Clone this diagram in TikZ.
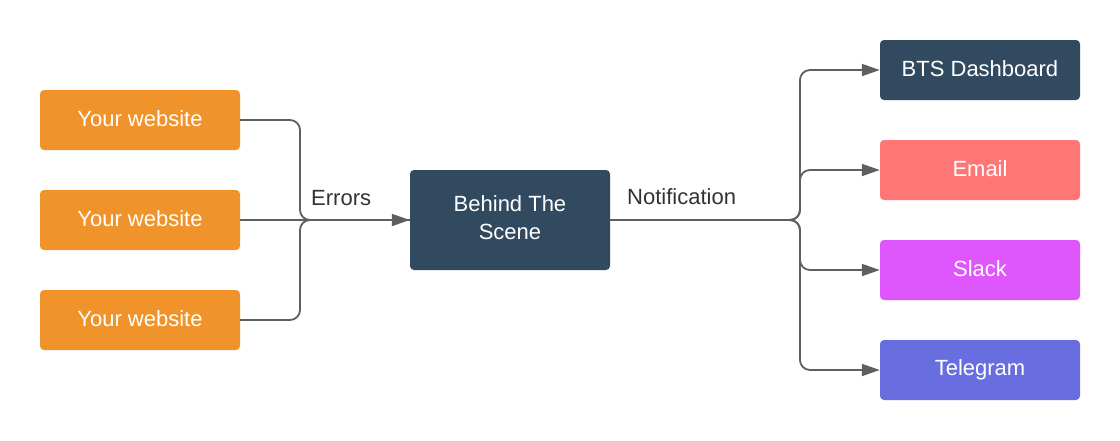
\documentclass[tikz,border=0pt]{standalone}
\usepackage{fontspec}
\setmainfont{Liberation Sans}
\usetikzlibrary{arrows.meta}
\definecolor{orangebox}{HTML}{F0932B}
\definecolor{darkbox}{HTML}{324A5F}
\definecolor{emailbox}{HTML}{FF7675}
\definecolor{slackbox}{HTML}{E056FD}
\definecolor{telebox}{HTML}{686DE0}
\definecolor{linegray}{HTML}{5F5F5F}
\definecolor{labelgray}{HTML}{333333}
\newcommand{\lift}[1]{\raisebox{2.5pt}{#1}}
\tikzset{
  box/.style={rectangle, rounded corners=4pt, minimum width=200pt, minimum height=60pt, inner sep=0pt, text=white, font=\fontsize{22}{27}\selectfont, align=center},
  conn/.style={draw=linegray, line width=1.8pt, rounded corners=10pt},
  arr/.style={-{Triangle[length=18pt,width=12pt]}},
  lbl/.style={text=labelgray, font=\fontsize{22}{26}\selectfont, inner sep=0pt}
}
\begin{document}
\begin{tikzpicture}[x=1pt,y=-1pt]
\useasboundingbox[fill=white] (0,0) rectangle (1120,440);
\node[box, fill=orangebox] (w1) at (140,120) {\lift{Your website}};
\node[box, fill=orangebox] (w2) at (140,220) {\lift{Your website}};
\node[box, fill=orangebox] (w3) at (140,320) {\lift{Your website}};
\node[box, fill=darkbox, minimum height=100pt] (bts) at (510,220) {\lift{\begin{tabular}{@{}c@{}}Behind The\\[0.5pt]Scene\end{tabular}}};
\node[box, fill=darkbox] (dash) at (980,70) {\lift{BTS Dashboard}};
\node[box, fill=emailbox] (email) at (980,170) {\lift{Email}};
\node[box, fill=slackbox] (slack) at (980,270) {\lift{Slack}};
\node[box, fill=telebox] (tele) at (980,370) {\lift{Telegram}};
\coordinate (jL) at (300,220);
\coordinate (jR) at (800,220);
\draw[conn] (w1.east) -| (jL) -- (bts.west);
\draw[conn] (w3.east) -| (jL) -- (bts.west);
\draw[conn, arr] (w2.east) -- (bts.west);
\draw[conn, arr] (bts.east) -- (jR) |- (dash.west);
\draw[conn, arr] (bts.east) -- (jR) |- (email.west);
\draw[conn, arr] (bts.east) -- (jR) |- (slack.west);
\draw[conn, arr] (bts.east) -- (jR) |- (tele.west);
\node[lbl, anchor=west] (errlbl) at (311,198) {Errors};
\node[lbl, anchor=west] (notlbl) at (627,197) {Notification};
\end{tikzpicture}
\end{document}
